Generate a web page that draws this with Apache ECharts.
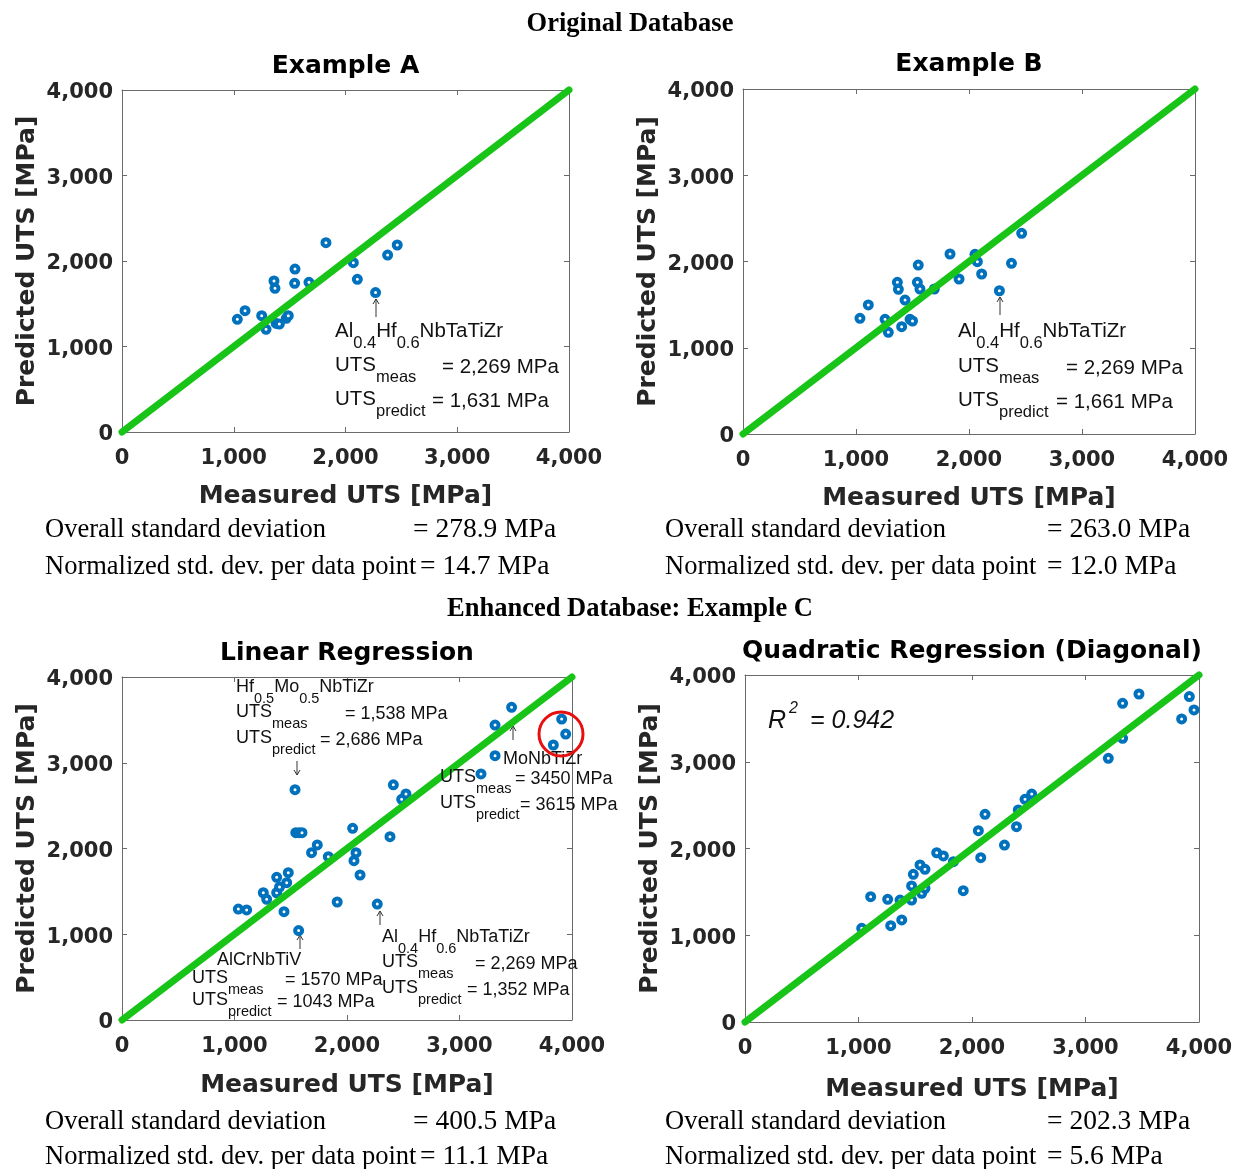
<!DOCTYPE html>
<html><head><meta charset="utf-8">
<script src="https://cdn.jsdelivr.net/npm/echarts@6/dist/echarts.min.js"></script>
<style>html,body{margin:0;padding:0;background:#fff}#c{width:1238px;height:1169px}</style>
</head><body><div id="c"></div>
<script>
// ---------- data ----------
const tickValues = [0, 1000, 2000, 3000, 4000];
const tickLabels = ['0', '1,000', '2,000', '3,000', '4,000'];
const diagonal = [[0, 0], [4000, 4000]];

const measA = [1032,1101,1250,1289,1380,1408,1470,1488,1360,1369,1545,1548,1673,1825,2070,2106,2269,2377,2463];
const predA = [1318,1419,1361,1201,1270,1263,1330,1361,1766,1680,1739,1906,1751,2214,1980,1786,1631,2070,2187];

const measB = [1035,1109,1257,1286,1375,1366,1404,1434,1478,1500,1543,1551,1566,1693,1832,1912,2053,2074,2112,2269,2376,2466];
const predB = [1341,1496,1329,1179,1677,1759,1244,1553,1329,1310,1759,1959,1681,1681,2087,1797,2083,1998,1855,1661,1979,2327];

const measC = [1034,1108,1256,1286,1375,1375,1440,1464,1478,1400,1538,1545,1575,1600,1570,1685,1736,1834,1913,2050,2062,2080,2116,2269,2382,2412,2486,2524,3191,3316,3316,3463,3834,3908,3944];
const predC = [1294,1283,1484,1407,1484,1664,1263,1601,1718,1550,2686,2184,2184,2184,1043,1951,2041,1904,1376,2235,1858,1951,1691,1352,2138,2743,2574,2636,2869,3082,3440,3646,3207,3510,3335];

const measD = [1028,1107,1257,1284,1366,1381,1468,1468,1483,1542,1557,1586,1586,1689,1748,1836,1923,2056,2077,2115,2286,2392,2408,2467,2526,3201,3327,3327,3471,3847,3915,3956];
const predD = [1080,1444,1414,1110,1406,1176,1406,1568,1702,1810,1484,1541,1760,1951,1914,1848,1514,2205,1894,2394,2040,2251,2444,2567,2628,3040,3270,3673,3781,3493,3751,3597];

const panelTitles = ['Example A', 'Example B', 'Linear Regression', 'Quadratic Regression (Diagonal)'];
const overallStd = ['= 278.9 MPa', '= 263.0 MPa', '= 400.5 MPa', '= 202.3 MPa'];
const normStd = ['= 14.7 MPa', '= 12.0 MPa', '= 11.1 MPa', '= 5.6 MPa'];

// ---------- layout ----------
const grids = [
  {left: 122, top: 90, width: 447, height: 342},
  {left: 743, top: 89, width: 452, height: 345},
  {left: 122, top: 677, width: 450, height: 343},
  {left: 745, top: 675, width: 454, height: 347}
];
const pairs = [[measA, predA], [measB, predB], [measC, predC], [measD, predD]];

const BOLD = 'DejaVu Sans';
const SANS = 'Liberation Sans, Arial, sans-serif';
const SERIF = 'Liberation Serif, Times New Roman, serif';
const AX = '#262626';
const FRAME = '#6a6a6a';

const xAxes = [], yAxes = [], series = [];
grids.forEach((g, i) => {
  const common = {
    type: 'value', min: 0, max: 4000, interval: 1000, gridIndex: i,
    splitLine: {show: false},
    axisLine: {show: true, onZero: false, lineStyle: {color: FRAME, width: 1}},
    axisTick: {show: true, inside: true, length: 5, lineStyle: {color: FRAME}}
  };
  const lab = {
    show: true, fontFamily: BOLD, fontWeight: 'bold', fontSize: 21, color: AX,
    formatter: v => tickLabels[tickValues.indexOf(v)]
  };
  xAxes.push(Object.assign({}, common, {position: 'bottom', axisLabel: Object.assign({}, lab, {margin: 16})}));
  xAxes.push(Object.assign({}, common, {position: 'top', axisLabel: {show: false}}));
  yAxes.push(Object.assign({}, common, {position: 'left', axisLabel: Object.assign({}, lab, {
    margin: 9,
    formatter: v => '{t|' + tickLabels[tickValues.indexOf(v)] + '}',
    rich: {t: {fontFamily: BOLD, fontWeight: 'bold', fontSize: 21, color: AX, padding: [6, 0, 0, 0]}}
  })}));
  yAxes.push(Object.assign({}, common, {position: 'right', axisLabel: {show: false}}));
  series.push({
    type: 'scatter', xAxisIndex: 2 * i, yAxisIndex: 2 * i, z: 2,
    data: pairs[i][0].map((m, k) => [m, pairs[i][1][k]]),
    symbol: 'circle', symbolSize: 7,
    itemStyle: {color: '#ffffff', borderColor: '#0072BD', borderWidth: 4, opacity: 1},
    emphasis: {disabled: true}, silent: true
  });
  series.push({
    type: 'line', xAxisIndex: 2 * i, yAxisIndex: 2 * i, z: 3,
    data: diagonal, symbol: 'none', clip: false,
    lineStyle: {color: '#17c417', width: 7, cap: 'round'},
    silent: true
  });
});

// ---------- text helpers ----------
function txt(x, y, text, font, opts) {
  opts = opts || {};
  return {
    type: 'text', silent: true, z: 10,
    x: x, y: y, rotation: opts.rotation || 0,
    style: {
      text: text, font: font, fill: opts.fill || '#000',
      align: opts.align || 'left', textAlign: opts.align || 'left',
      verticalAlign: 'middle', textVerticalAlign: 'middle'
    }
  };
}
function formula(x, cy, str, big, small, drop) {
  const lh = big + 4;
  return {
    type: 'text', silent: true, z: 10,
    x: x, y: cy - lh / 2,
    style: {
      text: str, fill: '#111',
      align: 'left', textAlign: 'left', verticalAlign: 'top', textVerticalAlign: 'top',
      rich: {
        n: {fontFamily: SANS, fontSize: big, lineHeight: lh, verticalAlign: 'top', fill: '#111', color: '#111'},
        s: {fontFamily: SANS, fontSize: small, lineHeight: small + 2, padding: [drop, 0, 2, 0], verticalAlign: 'top', fill: '#111', color: '#111'}
      }
    }
  };
}
function arrow(x, y1, y2, up) {
  const tip = up ? y1 : y2;
  const d = up ? 5 : -5;
  return {
    type: 'group', silent: true, z: 10,
    children: [
      {type: 'line', shape: {x1: x, y1: y1, x2: x, y2: y2}, style: {stroke: '#333', lineWidth: 1}},
      {type: 'polyline', shape: {points: [[x - 3, tip + d], [x, tip], [x + 3, tip + d]]}, style: {stroke: '#333', lineWidth: 1, fill: null}}
    ]
  };
}

const G = [];
// headings
G.push(txt(630, 24, 'Original Database', 'bold 26.5px ' + SERIF, {align: 'center'}));
G.push(txt(630, 609, 'Enhanced Database: Example C', 'bold 26.5px ' + SERIF, {align: 'center'}));
// panel titles, axis names, stats
const xNameY = [496, 498, 1085, 1089];
const titleY = [66, 64, 653, 651];
const statsY = [[530, 567], [530, 567], [1122, 1157], [1122, 1157]];
const statsX = [45, 665, 45, 665];
const eqX = [[413, 420], [1047, 1047], [413, 420], [1047, 1047]];
grids.forEach((g, i) => {
  const cx = g.left + g.width / 2;
  const cy = g.top + g.height / 2;
  G.push(txt(cx, titleY[i], panelTitles[i], 'bold 25px ' + BOLD, {align: 'center'}));
  G.push(txt(cx, xNameY[i], 'Measured UTS [MPa]', 'bold 25px ' + BOLD, {align: 'center', fill: AX}));
  G.push(txt(g.left - 95, cy, 'Predicted UTS [MPa]', 'bold 25px ' + BOLD, {align: 'center', fill: AX, rotation: Math.PI / 2}));
  G.push(txt(statsX[i], statsY[i][0], 'Overall standard deviation', '26.5px ' + SERIF));
  G.push(txt(eqX[i][0], statsY[i][0], overallStd[i], '27.5px ' + SERIF));
  G.push(txt(statsX[i], statsY[i][1], 'Normalized std. dev. per data point', '26.5px ' + SERIF));
  G.push(txt(eqX[i][1], statsY[i][1], normStd[i], '27.5px ' + SERIF));
});

// annotations panel A
const F1 = '20.5px ' + SANS;
G.push(arrow(376, 299, 317, true));
G.push(formula(335, 333, '{n|Al}{s|0.4}{n|Hf}{s|0.6}{n|NbTaTiZr}', 20.5, 16.5, 14));
G.push(formula(335, 367, '{n|UTS}{s|meas}', 20.5, 16.5, 14));
G.push(txt(442, 367, '= 2,269 MPa', F1, {fill: '#111'}));
G.push(formula(335, 401, '{n|UTS}{s|predict}', 20.5, 16.5, 14));
G.push(txt(432, 401, '= 1,631 MPa', F1, {fill: '#111'}));
// panel B
G.push(arrow(1000, 297, 315, true));
G.push(formula(958, 333, '{n|Al}{s|0.4}{n|Hf}{s|0.6}{n|NbTaTiZr}', 20.5, 16.5, 14));
G.push(formula(958, 368, '{n|UTS}{s|meas}', 20.5, 16.5, 14));
G.push(txt(1066, 368, '= 2,269 MPa', F1, {fill: '#111'}));
G.push(formula(958, 402, '{n|UTS}{s|predict}', 20.5, 16.5, 14));
G.push(txt(1056, 402, '= 1,661 MPa', F1, {fill: '#111'}));
// panel C
const F2 = '18px ' + SANS;
G.push(formula(236, 689, '{n|Hf}{s|0.5}{n|Mo}{s|0.5}{n|NbTiZr}', 18, 14.5, 13));
G.push(formula(236, 714, '{n|UTS}{s|meas}', 18, 14.5, 13));
G.push(txt(345, 714, '= 1,538 MPa', F2, {fill: '#111'}));
G.push(formula(236, 740, '{n|UTS}{s|predict}', 18, 14.5, 13));
G.push(txt(320, 740, '= 2,686 MPa', F2, {fill: '#111'}));
G.push(arrow(297, 761, 775, false));
G.push(arrow(513, 726, 740, true));
G.push(txt(503, 759, 'MoNbTiZr', F2, {fill: '#111'}));
G.push(formula(440, 779, '{n|UTS}{s|meas}', 18, 14.5, 13));
G.push(txt(515, 779, '= 3450 MPa', F2, {fill: '#111'}));
G.push(formula(440, 805, '{n|UTS}{s|predict}', 18, 14.5, 13));
G.push(txt(520, 805, '= 3615 MPa', F2, {fill: '#111'}));
G.push(arrow(380, 911, 925, true));
G.push(formula(382, 939, '{n|Al}{s|0.4}{n|Hf}{s|0.6}{n|NbTaTiZr}', 18, 14.5, 13));
G.push(formula(382, 964, '{n|UTS}{s|meas}', 18, 14.5, 13));
G.push(txt(475, 964, '= 2,269 MPa', F2, {fill: '#111'}));
G.push(formula(382, 990, '{n|UTS}{s|predict}', 18, 14.5, 13));
G.push(txt(467, 990, '= 1,352 MPa', F2, {fill: '#111'}));
G.push(arrow(300, 935, 949, true));
G.push(txt(217, 960, 'AlCrNbTiV', F2, {fill: '#111'}));
G.push(formula(192, 980, '{n|UTS}{s|meas}', 18, 14.5, 13));
G.push(txt(285, 980, '= 1570 MPa', F2, {fill: '#111'}));
G.push(formula(192, 1002, '{n|UTS}{s|predict}', 18, 14.5, 13));
G.push(txt(277, 1002, '= 1043 MPa', F2, {fill: '#111'}));
G.push({type: 'circle', silent: true, z: 11, shape: {cx: 561, cy: 734, r: 22},
  style: {fill: null, stroke: '#e8100f', lineWidth: 3}});
// panel D
G.push(txt(768, 721, 'R', 'italic 25px ' + SANS, {fill: '#111'}));
G.push(txt(789, 709, '2', 'italic 16px ' + SANS, {fill: '#111'}));
G.push(txt(810, 721, '= 0.942', 'italic 25px ' + SANS, {fill: '#111'}));

const chart = echarts.init(document.getElementById('c'), null, {renderer: 'canvas'});
chart.setOption({
  backgroundColor: '#fff',
  animation: false,
  grid: grids.map(g => Object.assign({containLabel: false}, g)),
  xAxis: xAxes,
  yAxis: yAxes,
  series: series,
  graphic: G
});
</script></body></html>
